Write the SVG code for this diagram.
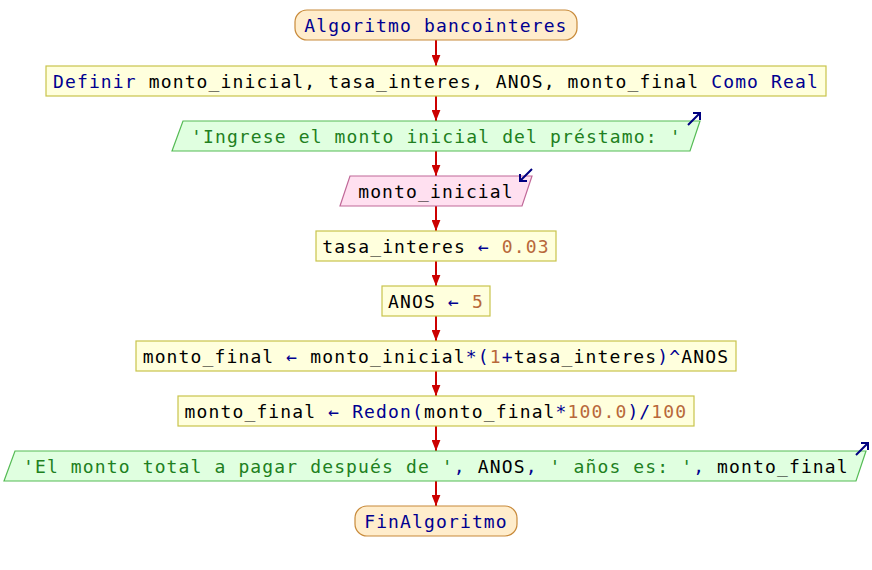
<svg xmlns="http://www.w3.org/2000/svg" width="872" height="570" viewBox="0 0 872 570">
  <defs>
    <style>
      .t { font-family: "DejaVu Sans Mono", "Liberation Mono", monospace; font-size: 18px; letter-spacing: 1.13px; fill: #000000; white-space: pre; }
      .kw { fill: #000090; }
      .num { fill: #b8683a; }
      .str { fill: #208020; }
      .term { fill: #ffedcc; stroke: #c88a3a; stroke-width: 1.2; }
      .proc { fill: #ffffdd; stroke: #c8c44c; stroke-width: 1.2; }
      .out { fill: #e0ffe0; stroke: #55bb55; stroke-width: 1.2; }
      .in { fill: #ffe0f0; stroke: #c06898; stroke-width: 1.2; }
      .flow { stroke: #cc0000; stroke-width: 2; fill: none; marker-end: url(#ah); }
      .io { stroke: #000080; stroke-width: 2; fill: none; }
    </style>
    <marker id="ah" viewBox="0 0 10 8" refX="10" refY="4" markerWidth="5.5" markerHeight="4.5" orient="auto" markerUnits="strokeWidth">
      <path d="M0,0 L10,4 L0,8 Z" fill="#cc0000"/>
    </marker>
  </defs>

  <!-- connectors -->
  <g id="connectors">
    <line class="flow" x1="436" y1="40" x2="436" y2="66"/>
    <line class="flow" x1="436" y1="96" x2="436" y2="121"/>
    <line class="flow" x1="436" y1="151" x2="436" y2="176"/>
    <line class="flow" x1="436" y1="206" x2="436" y2="231"/>
    <line class="flow" x1="436" y1="261" x2="436" y2="286"/>
    <line class="flow" x1="436" y1="316" x2="436" y2="341"/>
    <line class="flow" x1="436" y1="371" x2="436" y2="396"/>
    <line class="flow" x1="436" y1="426" x2="436" y2="451"/>
    <line class="flow" x1="436" y1="481" x2="436" y2="506"/>
  </g>

  <g id="inicio">
    <rect class="term" x="295" y="10" width="282" height="30" rx="12" ry="12"/>
    <text class="t kw" x="304.3" y="31.5">Algoritmo bancointeres</text>
  </g>

  <g id="definir">
    <rect class="proc" x="46" y="66" width="780" height="30"/>
    <text class="t" x="53" y="87.5"><tspan class="kw">Definir</tspan> monto_inicial, tasa_interes, ANOS, monto_final <tspan class="kw">Como Real</tspan></text>
  </g>

  <g id="escribir1">
    <polygon class="out" points="183,121 700,121 690,151 172,151"/>
    <text class="t str" x="191" y="142.5">'Ingrese el monto inicial del préstamo: '</text>
    <path class="io" d="M688,125 L700,113 M693,113 L700,113 L700,120"/>
  </g>

  <g id="leer">
    <polygon class="in" points="350,176 532,176 522,206 340,206"/>
    <text class="t" x="358.2" y="197.5">monto_inicial</text>
    <path class="io" d="M532,169 L520,181 M520,174 L520,181 L527,181"/>
  </g>

  <g id="asig_tasa">
    <rect class="proc" x="316" y="231" width="240" height="30"/>
    <text class="t" x="322.3" y="252.5">tasa_interes <tspan class="kw">←</tspan> <tspan class="num">0.03</tspan></text>
  </g>

  <g id="asig_anos">
    <rect class="proc" x="382" y="286" width="108" height="30"/>
    <text class="t" x="388.1" y="307.5">ANOS <tspan class="kw">←</tspan> <tspan class="num">5</tspan></text>
  </g>

  <g id="asig_monto">
    <rect class="proc" x="136" y="341" width="600" height="30"/>
    <text class="t" x="142.7" y="362.5">monto_final <tspan class="kw">←</tspan> monto_inicial<tspan class="kw">*(</tspan><tspan class="num">1</tspan><tspan class="kw">+</tspan>tasa_interes<tspan class="kw">)^</tspan>ANOS</text>
  </g>

  <g id="asig_redon">
    <rect class="proc" x="178" y="396" width="516" height="30"/>
    <text class="t" x="184.6" y="417.5">monto_final <tspan class="kw">←</tspan> <tspan class="kw">Redon(</tspan>monto_final<tspan class="kw">*</tspan><tspan class="num">100.0</tspan><tspan class="kw">)/</tspan><tspan class="num">100</tspan></text>
  </g>

  <g id="escribir2">
    <polygon class="out" points="15,451 866,451 856,481 4,481"/>
    <text class="t" x="23" y="472.5"><tspan class="str">'El monto total a pagar después de '</tspan><tspan class="kw">,</tspan> ANOS<tspan class="kw">,</tspan> <tspan class="str">' años es: '</tspan><tspan class="kw">,</tspan> monto_final</text>
    <path class="io" d="M856,455 L868,443 M861,443 L868,443 L868,450"/>
  </g>

  <g id="fin">
    <rect class="term" x="355" y="506" width="162" height="30" rx="12" ry="12"/>
    <text class="t kw" x="364.2" y="527.5">FinAlgoritmo</text>
  </g>
</svg>
